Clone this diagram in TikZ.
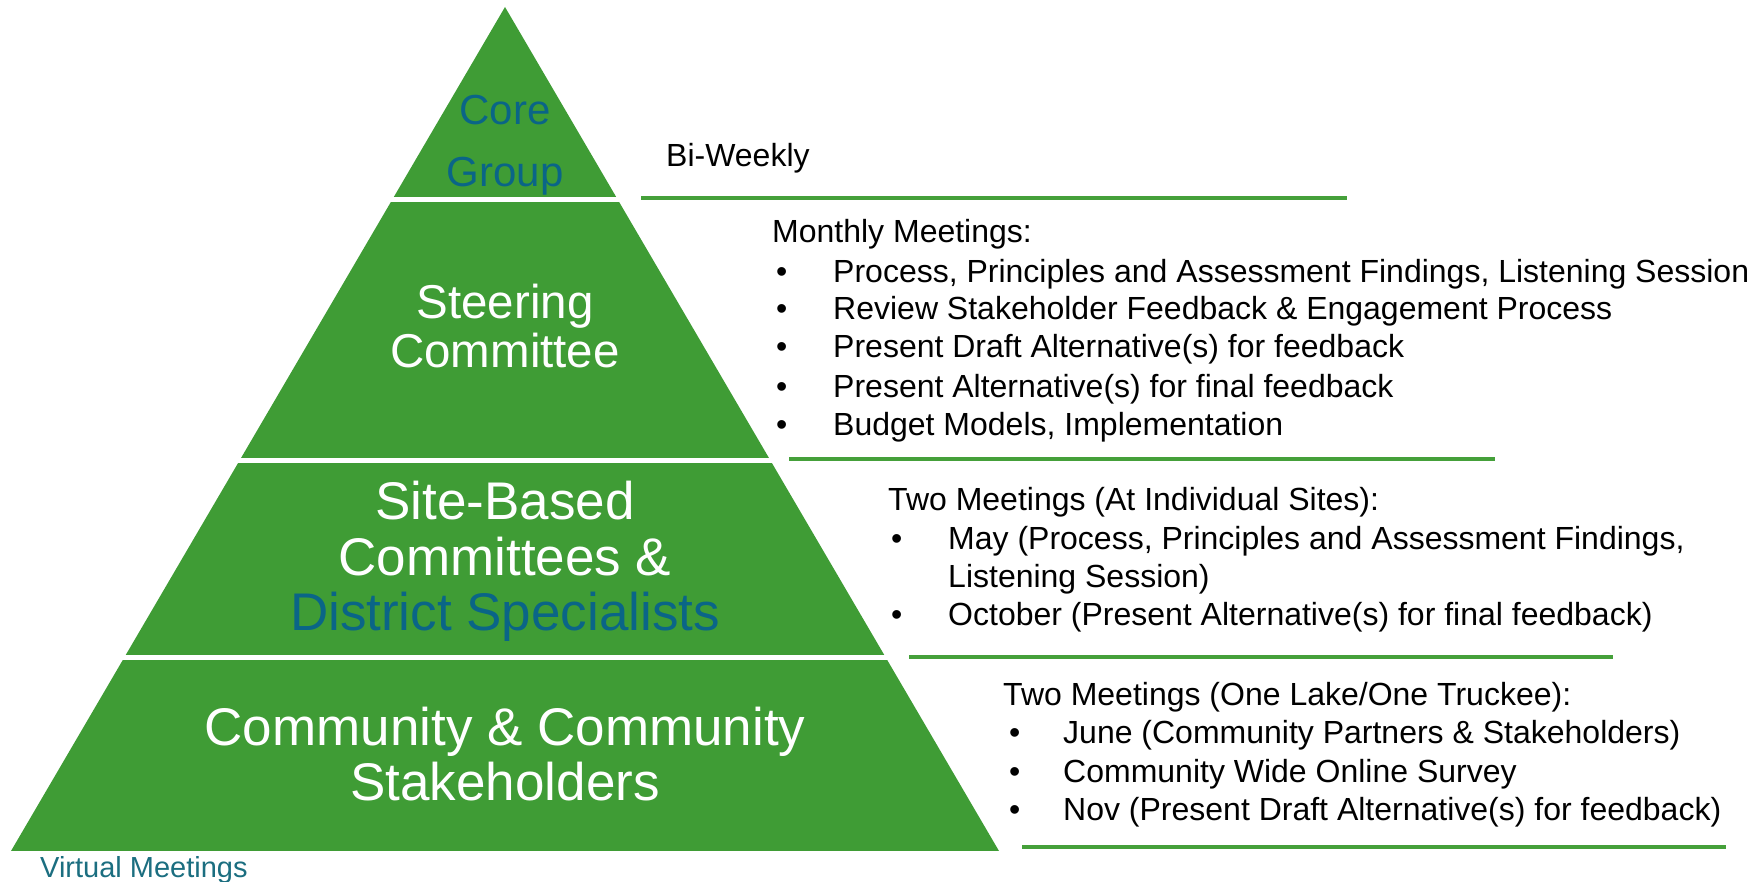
\documentclass[tikz,border=0pt]{standalone}
\usepackage{fontspec}
\setmainfont{Liberation Sans}
\definecolor{pgreen}{HTML}{3F9C35}
\definecolor{lgreen}{HTML}{45A03A}
\definecolor{teal}{HTML}{0A6587}
\definecolor{vteal}{HTML}{1B6E80}
\tikzset{
  tierA/.style={inner sep=0pt, anchor=base, font=\fontsize{42}{42}\selectfont},
  tierB/.style={inner sep=0pt, anchor=base, font=\fontsize{47.5}{47.5}\selectfont},
  tierC/.style={inner sep=0pt, anchor=base, font=\fontsize{53}{53}\selectfont},
  rtext/.style={inner sep=0pt, anchor=base west, font=\fontsize{32}{32}\selectfont},
  sepline/.style={draw=lgreen, line width=3.5pt}
}
\begin{document}
\begin{tikzpicture}[x=1pt,y=-1pt]
\useasboundingbox (0,0) rectangle (1748,882);
% pyramid
\begin{scope}
\clip (505,7) -- (999,851) -- (11,851) -- cycle;
\fill[pgreen] (0,0) rectangle (1000,197);
\fill[pgreen] (0,202) rectangle (1000,458);
\fill[pgreen] (0,463) rectangle (1000,655);
\fill[pgreen] (0,660) rectangle (1000,851);
\end{scope}
% tier labels
\node[tierA, text=teal] (core1) at (505,125) {Core};
\node[tierA, text=teal] (core2) at (505,187) {Group};
\node[tierB, text=white] (st1) at (505,319) {Steering};
\node[tierB, text=white] (st2) at (505,368) {Committee};
\node[tierC, text=white] (si1) at (505,519) {Site-Based};
\node[tierC, text=white] (si2) at (505,575) {Committees \&};
\node[tierC, text=teal] (si3) at (505,630) {District Specialists};
\node[tierC, text=white] (co1) at (505,745) {Community \& Community};
\node[tierC, text=white] (co2) at (505,800) {Stakeholders};
% separators
\coordinate (l1a) at (641,198); \coordinate (l1b) at (1347,198);
\coordinate (l2a) at (789,459); \coordinate (l2b) at (1495,459);
\coordinate (l3a) at (909,657); \coordinate (l3b) at (1613,657);
\coordinate (l4a) at (1022,847); \coordinate (l4b) at (1726,847);
\draw[sepline] (l1a) -- (l1b);
\draw[sepline] (l2a) -- (l2b);
\draw[sepline] (l3a) -- (l3b);
\draw[sepline] (l4a) -- (l4b);
% right texts
\node[rtext] (bw) at (666,167) {Bi-Weekly};
\node[rtext] (mm) at (772,243) {Monthly Meetings:};
\foreach \y/\t [count=\i] in {283/{Process, Principles and Assessment Findings, Listening Session},
  320/{Review Stakeholder Feedback \& Engagement Process},
  358/{Present Draft Alternative(s) for feedback},
  397/{Present Alternative(s) for final feedback},
  435/{Budget Models, Implementation}}{
  \node[rtext] (mb\i) at (776,\y) {•};
  \node[rtext] (mt\i) at (833,\y) {\t};
}
\node[rtext] (tm) at (888,510) {Two Meetings (At Individual Sites):};
\node[rtext] (sb1) at (891,549) {•};
\node[rtext] (st1t) at (948,549) {May (Process, Principles and Assessment Findings,};
\node[rtext] (st1u) at (948,587) {Listening Session)};
\node[rtext] (sb2) at (891,625) {•};
\node[rtext] (st2t) at (948,625) {October (Present Alternative(s) for final feedback)};
\node[rtext] (cm) at (1003,705) {Two Meetings (One Lake/One Truckee):};
\foreach \y/\t [count=\i] in {743/{June (Community Partners \& Stakeholders)},
  782/{Community Wide Online Survey},
  820/{Nov (Present Draft Alternative(s) for feedback)}}{
  \node[rtext] (cb\i) at (1009,\y) {•};
  \node[rtext] (ct\i) at (1063,\y) {\t};
}
\node[inner sep=0pt, anchor=base west, text=vteal, font=\fontsize{29}{29}\selectfont] (vm) at (40,877) {Virtual Meetings};
\end{tikzpicture}
\end{document}
